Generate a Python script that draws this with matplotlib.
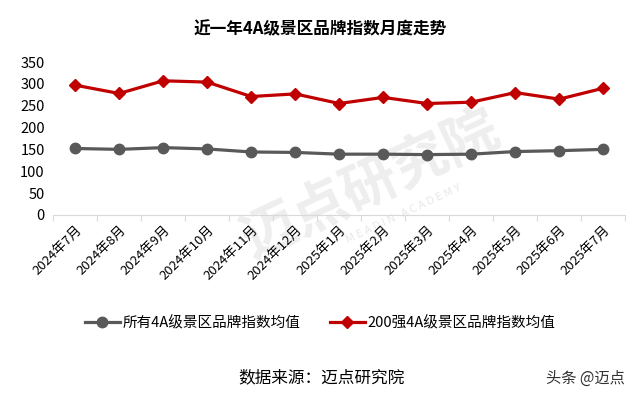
import matplotlib.pyplot as plt

plt.rcParams['font.family'] = ['Noto Sans CJK SC', 'DejaVu Sans']

months = ['2024年7月', '2024年8月', '2024年9月', '2024年10月', '2024年11月', '2024年12月',
          '2025年1月', '2025年2月', '2025年3月', '2025年4月', '2025年5月', '2025年6月', '2025年7月']
all_4a = [152, 150, 154, 151, 144, 143, 139, 139, 138, 139, 145, 147, 150]
top200 = [297, 278, 307, 304, 271, 277, 255, 269, 255, 258, 280, 265, 290]
yticks = [0, 50, 100, 150, 200, 250, 300, 350]

fig = plt.figure(figsize=(6.4, 3.95), dpi=100)
ax = fig.add_axes([0.083, 0.456, 0.894, 0.387])

# 背景浮水印 (淡灰色，放在最底層)
fig.text(0.58, 0.53, '迈点研究院', fontsize=40, color='#eeeeee', rotation=25,
         ha='center', va='center', zorder=-1, fontweight='bold')
fig.text(0.63, 0.46, 'M E A D I N   A C A D E M Y', fontsize=8, color='#e8e8e8',
         rotation=25, ha='center', va='center', zorder=-1)

x = list(range(len(months)))
ax.plot(x, all_4a, color='#595959', linewidth=2.3, marker='o', markersize=7.5,
        label='所有4A级景区品牌指数均值', zorder=3)
ax.plot(x, top200, color='#c00000', linewidth=2.3, marker='D', markersize=6,
        label='200强4A级景区品牌指数均值', zorder=3)

ax.set_xlim(-0.5, len(months) - 0.5)
ax.set_ylim(0, 350)
ax.set_yticks(yticks)
ax.set_facecolor('none')
ax.tick_params(axis='y', length=0, labelsize=10.5, pad=6)

ax.set_xticks([i - 0.5 for i in range(len(months) + 1)])
ax.set_xticklabels([])
ax.set_xticks(x, minor=True)
ax.set_xticklabels(months, minor=True, rotation=45, ha='right', va='top',
                   rotation_mode='anchor', fontsize=9.5)
ax.tick_params(axis='x', which='major', length=4, color='#d9d9d9')
ax.tick_params(axis='x', which='minor', length=0, pad=6)

for s in ['top', 'right', 'left']:
    ax.spines[s].set_visible(False)
ax.spines['bottom'].set_color('#d9d9d9')

fig.text(0.5, 0.925, '近一年4A级景区品牌指数月度走势', ha='center', va='center',
         fontsize=12, fontweight='bold')

fig.legend(loc='center', bbox_to_anchor=(0.5, 0.182), ncol=2, frameon=False,
           fontsize=10.5, handlelength=2.4, columnspacing=2.0, handletextpad=0.2)

fig.text(0.502, 0.043, '数据来源：迈点研究院', ha='center', va='center', fontsize=12)
fig.text(0.977, 0.043, '头条 @迈点', ha='right', va='center', fontsize=11, color='#333333')

fig.savefig('out.png', dpi=100)
